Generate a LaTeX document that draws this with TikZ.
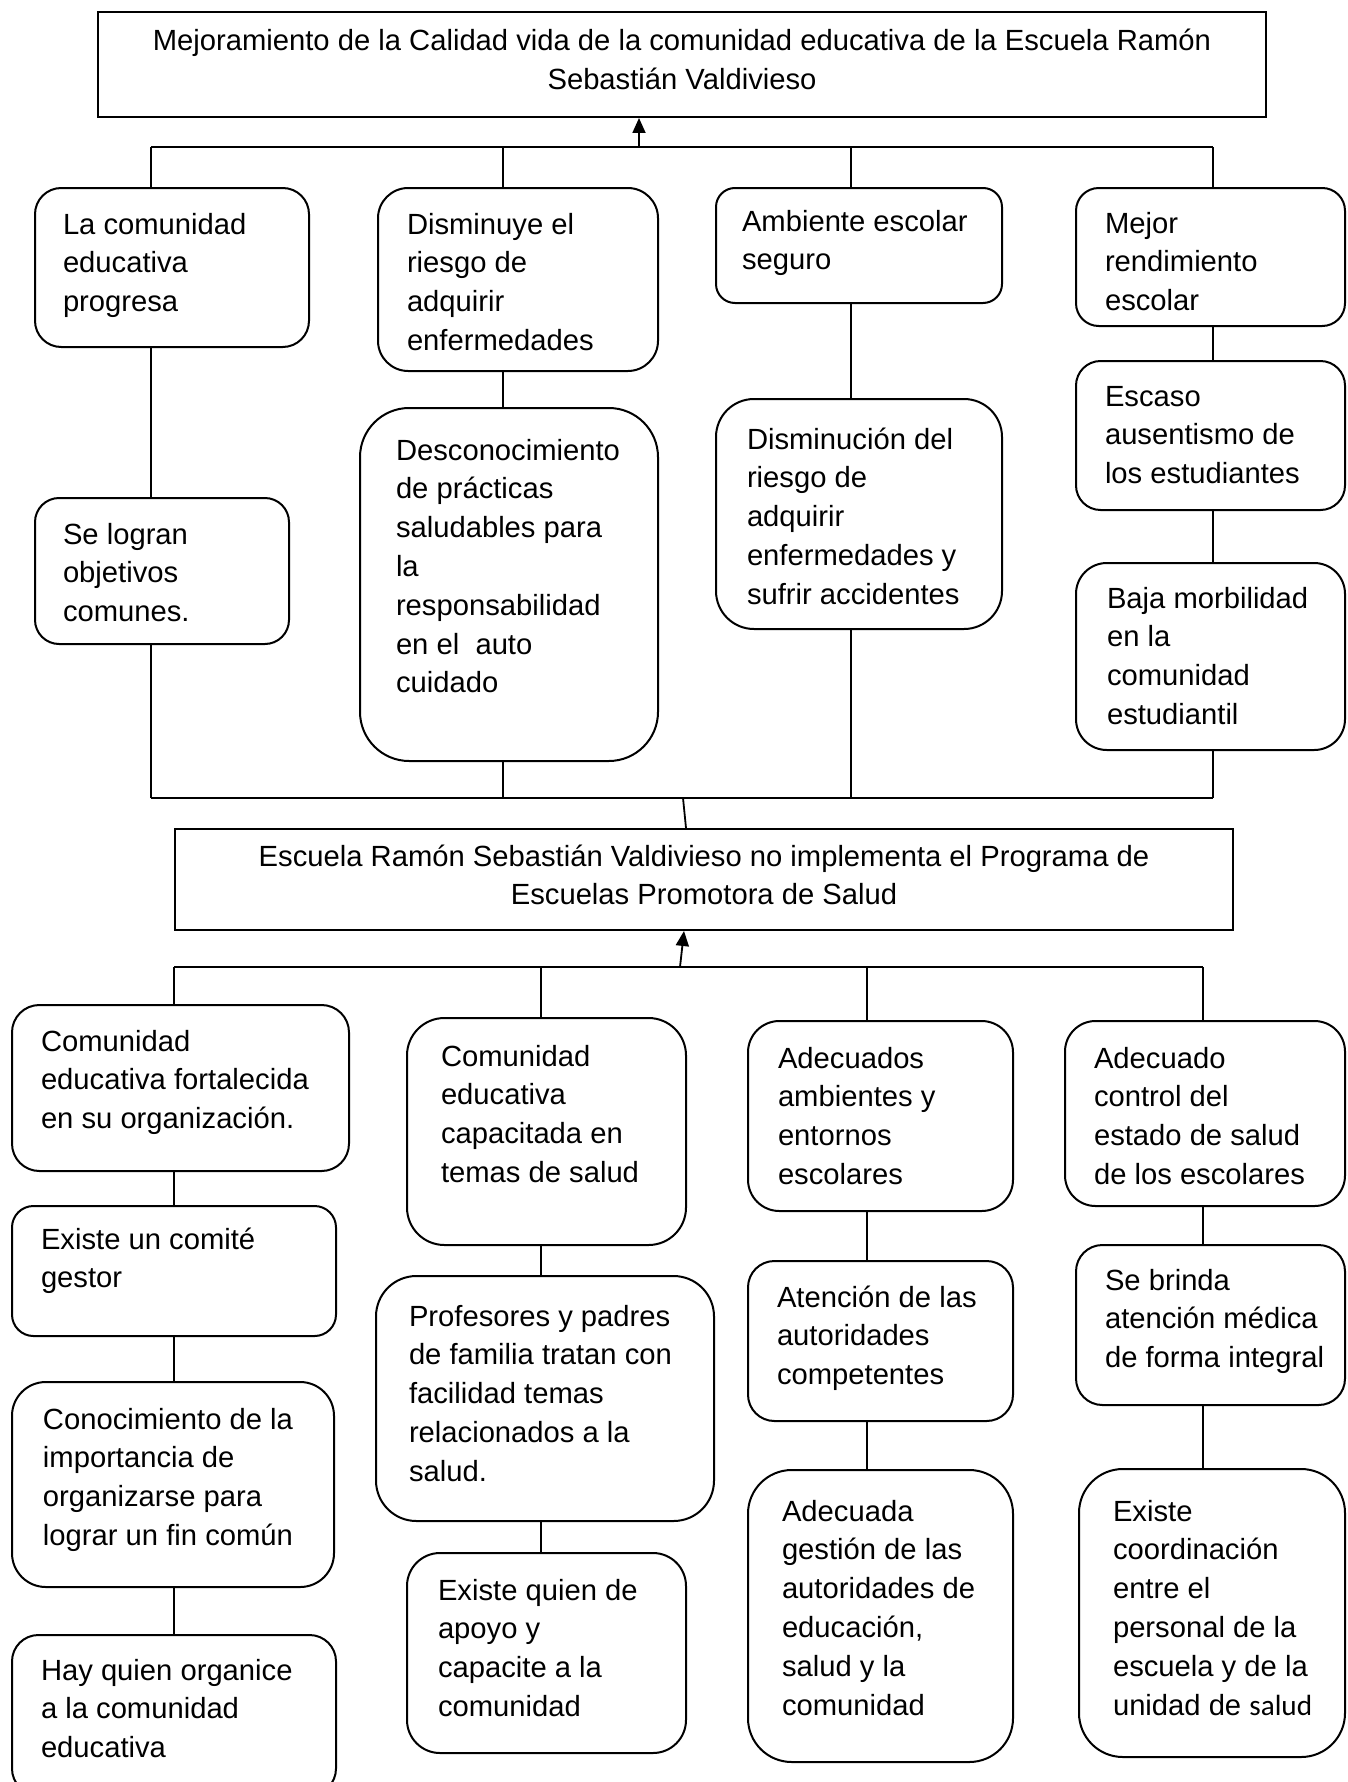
\documentclass[tikz,border=0pt]{standalone}
\usepackage{fontspec}
\setmainfont{Liberation Sans}
\newfontfamily\calib{Carlito}
\usetikzlibrary{arrows.meta}
\newcommand\mkround[8]{%
  \pgfmathsetmacro\myrad{0.165*min(#4,#5)}%
  \node[rb, rounded corners=\myrad pt, anchor=north west] (#1) at (#2,#3)
    {\parbox[c][#5pt][t]{#4pt}{\rule{0pt}{#7pt}\hspace*{#6pt}\begin{tabular}[t]{@{}l@{}}#8\end{tabular}}};}
\newcommand\mksharp[7]{%
  \node[sb, anchor=north west] (#1) at (#2,#3)
    {\parbox[c][#5pt][t]{#4pt}{\centering\rule{0pt}{#6pt}\begin{tabular}[t]{@{}c@{}}#7\end{tabular}}};}
\begin{document}
\begin{tikzpicture}[x=1pt,y=-1pt,
  every node/.style={font=\fontsize{29.2}{38.8}\selectfont},
  rb/.style={draw, line width=2pt, inner sep=0pt, fill=white},
  sb/.style={draw, line width=2pt, inner sep=0pt, fill=white},
  ln/.style={line width=1.8pt},
  ar/.style={line width=1.8pt, -{Triangle[length=15pt,width=13pt]}}]
\fill[white] (0,0) rectangle (1348,1782);
\useasboundingbox (0,0) rectangle (1348,1782);
% column and bus coordinates
\coordinate (cA) at (151,0); \coordinate (cB) at (503,0);
\coordinate (cC) at (851,0); \coordinate (cD) at (1213,0);
\coordinate (cE) at (174,0); \coordinate (cF) at (541,0);
\coordinate (cG) at (867,0); \coordinate (cH) at (1203,0);
\coordinate (bus1) at (0,147); \coordinate (bus2) at (0,798); \coordinate (bus3) at (0,967);
% boxes
\mksharp{T}{97}{11}{1168}{105}{39}{Mejoramiento de la Calidad vida de la comunidad educativa de la Escuela Ramón\\Sebastián Valdivieso}
\mkround{A1}{34}{187}{274}{159}{28}{46}{La comunidad\\educativa\\progresa}
\mkround{A2}{34}{497}{254}{146}{28}{46}{Se logran\\objetivos\\comunes.}
\mkround{B1}{377}{187}{280}{183}{29}{46}{Disminuye el\\riesgo de\\adquirir\\enfermedades}
\mkround{B2}{359}{407}{298}{353}{36}{52}{Desconocimiento\\de prácticas\\saludables para\\la\\responsabilidad\\en el\ \ auto\\cuidado}
\mkround{C1}{715}{187}{286}{115}{26}{43}{Ambiente escolar\\seguro}
\mkround{C2}{715}{398}{286}{230}{31}{50}{Disminución del\\riesgo de\\adquirir\\enfermedades y\\sufrir accidentes}
\mkround{D1}{1075}{187}{269}{138}{29}{45}{Mejor\\rendimiento\\escolar}
\mkround{D2}{1075}{360}{269}{149}{29}{45}{Escaso\\ausentismo de\\los estudiantes}
\mkround{D3}{1075}{562}{269}{187}{31}{45}{Baja morbilidad\\en la\\comunidad\\estudiantil}
\mksharp{M}{174}{828}{1058}{101}{37}{Escuela Ramón Sebastián Valdivieso no implementa el Programa de\\Escuelas Promotora de Salud}
\mkround{E1}{11}{1004}{337}{166}{29}{46}{Comunidad\\educativa fortalecida\\en su organización.}
\mkround{E2}{11}{1205}{324}{130}{29}{43}{Existe un comité\\gestor}
\mkround{E3}{11}{1381}{322}{205}{31}{47}{Conocimiento de la\\importancia de\\organizarse para\\lograr un fin común}
\mkround{E4}{11}{1634}{324}{160}{29}{45}{Hay quien organice\\a la comunidad\\educativa}
\mkround{F1}{406}{1017}{279}{227}{34}{48}{Comunidad\\educativa\\capacitada en\\temas de salud}
\mkround{F2}{375}{1275}{338}{245}{33}{50}{Profesores y padres\\de familia tratan con\\facilidad temas\\relacionados a la\\salud.}
\mkround{F3}{406}{1552}{279}{200}{31}{47}{Existe quien de\\apoyo y\\capacite a la\\comunidad}
\mkround{G1}{747}{1020}{265}{190}{30}{47}{Adecuados\\ambientes y\\entornos\\escolares}
\mkround{G2}{747}{1260}{265}{160}{29}{46}{Atención de las\\autoridades\\competentes}
\mkround{G3}{747}{1469}{265}{292}{34}{51}{Adecuada\\gestión de las\\autoridades de\\educación,\\salud y la\\comunidad}
\mkround{H1}{1064}{1020}{280}{185}{29}{47}{Adecuado\\control del\\estado de salud\\de los escolares}
\mkround{H2}{1075}{1244}{269}{160}{29}{45}{Se brinda\\atención médica\\de forma integral}
\mkround{H3}{1078}{1468}{266}{288}{34}{52}{Existe\\coordinación\\entre el\\personal de la\\escuela y de la\\unidad de {\calib salud}}
% upper buses and arrow
\coordinate (a1) at (639,147);
\draw[ar] (a1) -- (a1 |- T.south);
\draw[ln] (cA |- bus1) -- (cD |- bus1);
\draw[ln] (cA |- bus2) -- (cD |- bus2);
\draw[ln] (cA |- bus1) -- (cA |- A1.north);
\draw[ln] (cA |- A1.south) -- (cA |- A2.north);
\draw[ln] (cA |- A2.south) -- (cA |- bus2);
\draw[ln] (cB |- bus1) -- (cB |- B1.north);
\draw[ln] (cB |- B1.south) -- (cB |- B2.north);
\draw[ln] (cB |- B2.south) -- (cB |- bus2);
\draw[ln] (cC |- bus1) -- (cC |- C1.north);
\draw[ln] (cC |- C1.south) -- (cC |- C2.north);
\draw[ln] (cC |- C2.south) -- (cC |- bus2);
\draw[ln] (cD |- bus1) -- (cD |- D1.north);
\draw[ln] (cD |- D1.south) -- (cD |- D2.north);
\draw[ln] (cD |- D2.south) -- (cD |- D3.north);
\draw[ln] (cD |- D3.south) -- (cD |- bus2);
% middle links
\coordinate (m1) at (683,798);
\draw[ln] (m1) -- ([xshift=-18pt]M.north);
\coordinate (a2) at (680,967);
\draw[ar] (a2) -- ([xshift=-20pt]M.south);
% lower bus
\draw[ln] (cE |- bus3) -- (cH |- bus3);
\draw[ln] (cE |- bus3) -- (cE |- E1.north);
\draw[ln] (cE |- E1.south) -- (cE |- E2.north);
\draw[ln] (cE |- E2.south) -- (cE |- E3.north);
\draw[ln] (cE |- E3.south) -- (cE |- E4.north);
\draw[ln] (cF |- bus3) -- (cF |- F1.north);
\draw[ln] (cF |- F1.south) -- (cF |- F2.north);
\draw[ln] (cF |- F2.south) -- (cF |- F3.north);
\draw[ln] (cG |- bus3) -- (cG |- G1.north);
\draw[ln] (cG |- G1.south) -- (cG |- G2.north);
\draw[ln] (cG |- G2.south) -- (cG |- G3.north);
\draw[ln] (cH |- bus3) -- (cH |- H1.north);
\draw[ln] (cH |- H1.south) -- (cH |- H2.north);
\draw[ln] (cH |- H2.south) -- (cH |- H3.north);
\end{tikzpicture}
\end{document}
